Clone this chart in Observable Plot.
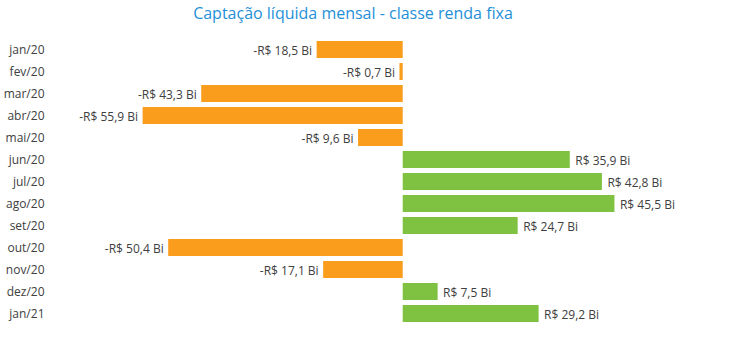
<!DOCTYPE html>
<html>
<head>
<meta charset="utf-8">
<script src="https://cdn.jsdelivr.net/npm/d3@7"></script>
<script src="https://cdn.jsdelivr.net/npm/@observablehq/plot@0.6"></script>
<style>
  body { margin: 0; background: #fff; font-family: "Open Sans", sans-serif; }
  #title { height: 28px; line-height: 27px; width: 706px; text-align: center; font-size: 16px; color: #1f8fd8; white-space: nowrap; }
</style>
</head>
<body>
<div id="title">Captação líquida mensal - classe renda fixa</div>
<div id="chart"></div>
<script>
const months = ["jan/20","fev/20","mar/20","abr/20","mai/20","jun/20","jul/20","ago/20","set/20","out/20","nov/20","dez/20","jan/21"];
const values = [-18.5, -0.7, -43.3, -55.9, -9.6, 35.9, 42.8, 45.5, 24.7, -50.4, -17.1, 7.5, 29.2];

const data = months.map((m, i) => ({ month: m, value: values[i] }));
const fmt = v => (v < 0 ? "-" : "") + "R$ " + Math.abs(v).toFixed(1).replace(".", ",") + " Bi";

const chart = Plot.plot({
  width: 750,
  height: 327,
  marginLeft: 50,
  marginRight: 2,
  marginTop: 7,
  marginBottom: 27,
  style: { fontFamily: "Open Sans, sans-serif", fontSize: "12px", color: "#404040" },
  x: { domain: [-75.8, 74.2], axis: null },
  y: { domain: months, padding: 0.22, label: null, tickSize: 0, tickPadding: 6 },
  marks: [
    Plot.barX(data, { y: "month", x: "value", fill: d => d.value < 0 ? "#fa9d1c" : "#7fc241" }),
    Plot.text(data.filter(d => d.value < 0), { y: "month", x: "value", text: d => fmt(d.value), textAnchor: "end", dx: -5, dy: 1, fill: "#404040", fontSize: 12 }),
    Plot.text(data.filter(d => d.value >= 0), { y: "month", x: "value", text: d => fmt(d.value), textAnchor: "start", dx: 5, dy: 1, fill: "#404040", fontSize: 12 })
  ]
});
document.getElementById("chart").appendChild(chart);
</script>
</body>
</html>
